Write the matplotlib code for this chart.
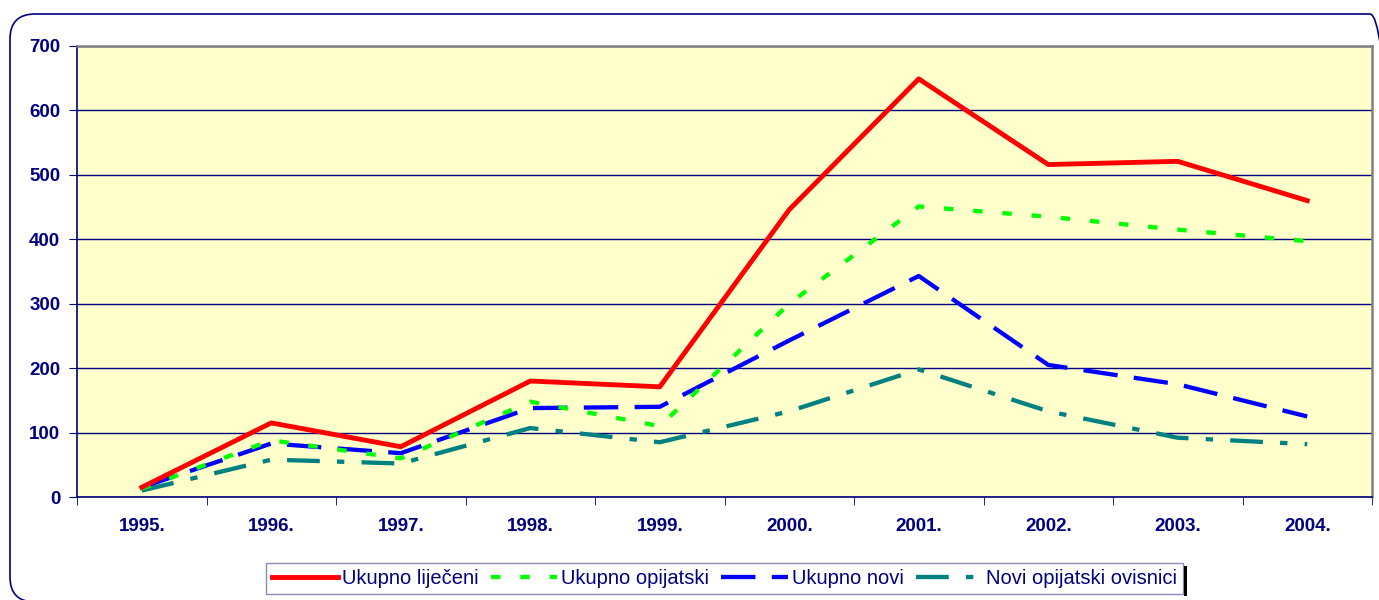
import numpy as np
import matplotlib
matplotlib.use('Agg')
import matplotlib.pyplot as plt
from matplotlib.patches import FancyBboxPatch, Rectangle

years = ['1995.', '1996.', '1997.', '1998.', '1999.',
         '2000.', '2001.', '2002.', '2003.', '2004.']
ukupno_lijeceni = [15, 115, 78, 180, 171, 446, 649, 516, 521, 460]
ukupno_opijatski = [13, 88, 60, 148, 110, 300, 451, 435, 415, 397]
ukupno_novi = [15, 83, 68, 138, 140, 243, 343, 205, 175, 125]
novi_opijatski = [10, 58, 52, 107, 85, 133, 198, 133, 92, 82]

navy = '#000080'
plt.rcParams['font.family'] = ['Liberation Sans', 'DejaVu Sans']

fig = plt.figure(figsize=(13.79, 6.0), dpi=100)

# rounded outer frame (runs off the right and bottom edges)
frame = FancyBboxPatch((0.35, 0.23), 13.35, 5.38,
                       boxstyle='round,pad=0.25',
                       transform=fig.dpi_scale_trans,
                       facecolor='none', edgecolor=navy, lw=1.2)
fig.patches.append(frame)

ax = fig.add_axes([77/1379, 103/600, 1295/1379, 451/600])
ax.set_facecolor('#FFFFCC')

x = np.arange(len(years))
lw = 3.1
ax.plot(x, ukupno_lijeceni, color='#FF0000', lw=lw + 0.4,
        label='Ukupno liječeni', zorder=5)
ax.plot(x, ukupno_opijatski, color='#00FF00', lw=lw,
        dashes=(2.2, 4.6), label='Ukupno opijatski', zorder=4)
ax.plot(x, ukupno_novi, color='#0000FF', lw=lw,
        dashes=(8, 3.8), label='Ukupno novi', zorder=3)
ax.plot(x, novi_opijatski, color='#008080', lw=lw,
        dashes=(7.6, 4, 1.7, 4), label='Novi opijatski ovisnici', zorder=2)

ax.set_xlim(-0.5, len(years) - 0.5)
ax.set_ylim(0, 700)
ax.set_yticks(np.arange(0, 701, 100))
ax.set_xticks(x)
ax.set_xticklabels(years)
ax.set_xticks(np.arange(-0.5, len(years)), minor=True)
ax.tick_params(axis='x', which='major', length=0, pad=15)
ax.tick_params(axis='x', which='minor', length=6, color=navy, direction='out')
ax.tick_params(axis='y', length=6, color=navy, direction='out', pad=6)
for lab in ax.get_xticklabels() + ax.get_yticklabels():
    lab.set_fontweight('bold')
    lab.set_color(navy)
    lab.set_fontsize(13.5)

ax.grid(axis='y', color=navy, lw=1.0)
ax.set_axisbelow(True)
for s in ['left', 'bottom']:
    ax.spines[s].set_color(navy)
    ax.spines[s].set_linewidth(1.2)
for s in ['top', 'right']:
    ax.spines[s].set_color('#808080')
    ax.spines[s].set_linewidth(1.8)

leg = ax.legend(loc='upper center', bbox_to_anchor=(0.5, -0.146),
                ncol=4, frameon=True, fancybox=False, fontsize=14.5,
                handlelength=3.3, handletextpad=0.2, columnspacing=0.6,
                borderpad=0.3, borderaxespad=0)
leg.get_frame().set_edgecolor('#7070A0')
leg.get_frame().set_linewidth(1.0)
for t in leg.get_texts():
    t.set_color(navy)

# dark shadow edge on the right side of the legend box
fig.canvas.draw()
bb = leg.get_window_extent()
fig.patches.append(Rectangle((bb.x1 + 1, bb.y0 - 2), 3, bb.height - 1,
                             transform=None, facecolor='black',
                             edgecolor='none'))

fig.savefig('out.png', dpi=100)
